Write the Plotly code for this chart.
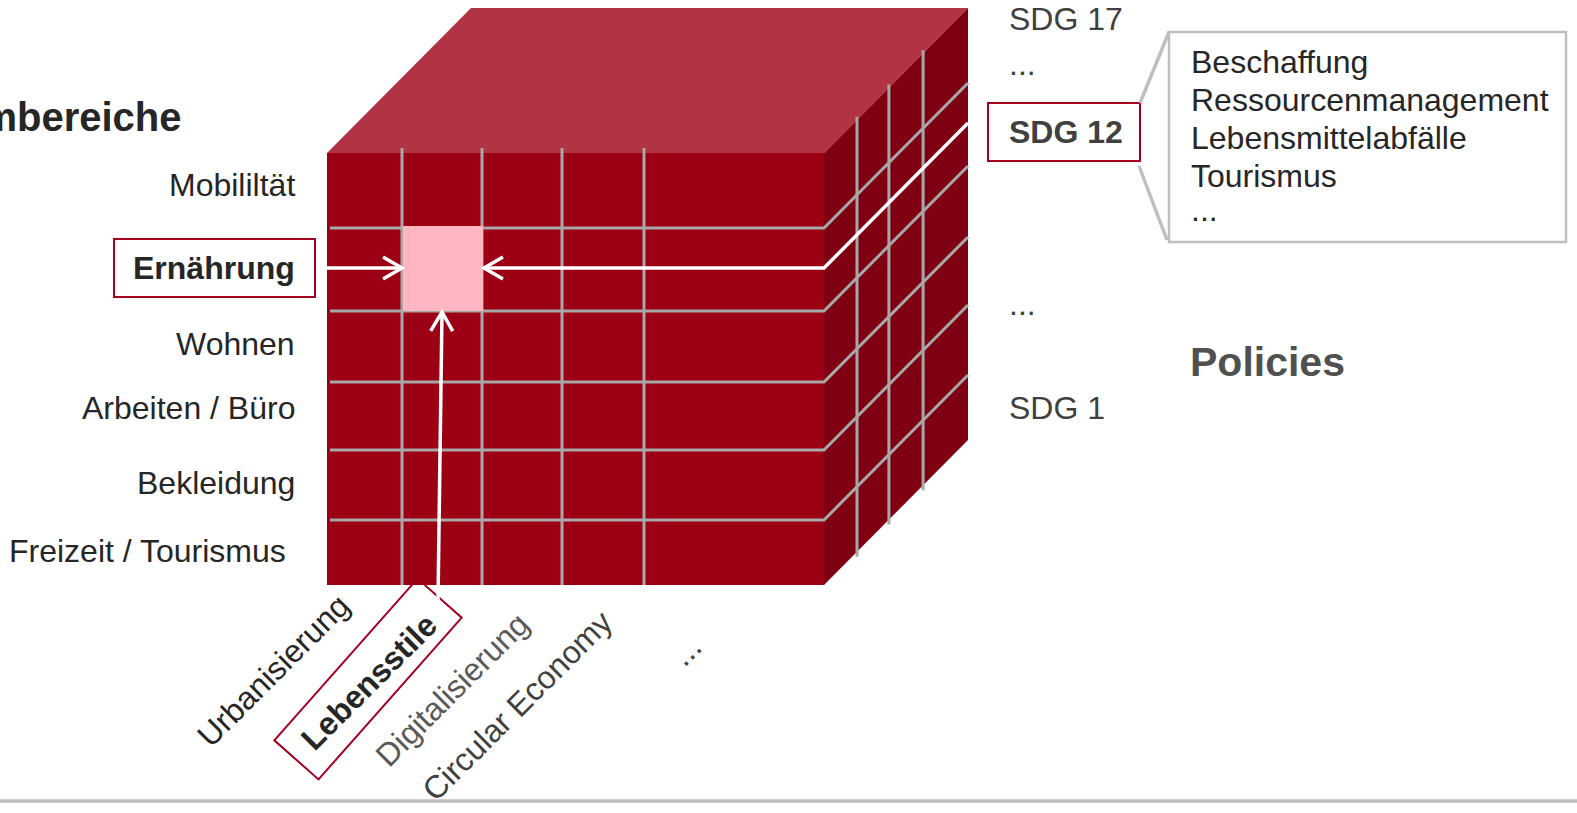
import math
import plotly.graph_objects as go

# ---------------- data ----------------
title_text = "Konsumbereiche"
areas = ["Mobililtät", "Ernährung", "Wohnen", "Arbeiten / Büro", "Bekleidung", "Freizeit / Tourismus"]
trends = ["Urbanisierung", "Lebensstile", "Digitalisierung", "Circular Economy", "..."]
sdgs = ["SDG 17", "...", "SDG 12", "...", "SDG 1"]
policy_items = ["Beschaffung", "Ressourcenmanagement", "Lebensmittelabfälle", "Tourismus", "..."]
policies_title = "Policies"
focus_area = "Ernährung"
focus_trend = "Lebensstile"
focus_sdg = "SDG 12"

# ---------------- layout geometry (pixels, y pointing down) ----------------
W, H = 1577, 813
FX0, FX1, FY0, FY1 = 327, 824, 153, 585          # front face
DX, DY = 144, -145                                # depth vector of the cube
row_edges = [228, 311, 382, 450, 520]
col_edges = [402, 482, 562, 644]
depth_fracs = [0.229, 0.451, 0.688]
area_y = [185, 268, 344, 408, 483, 551]
area_right = [297, 297, 297, 297, 297, 288]
trend_pos = [(273, 671), (369, 682), (452, 690), (517, 706), (686, 651)]
trend_colors = ["#262626", "#262626", "#595959", "#404040", "#404040"]
sdg_x = 1007
sdg_y = [19, 64, 132, 304, 408]
policy_x = 1189
policy_y = [62, 100, 138, 176, 210]

# ---------------- styles ----------------
FONT = "Liberation Sans, Arial, sans-serif"
C_FRONT = "#9C0015"
C_TOP = "#B23344"
C_SIDE = "#7F0012"
C_GRID = "#A8A8A8"
C_PINK = "#FFB6C1"
C_BOX = "#A50021"
C_LIGHT = "#BFBFBF"

shapes = []


def add_path(pts, color="rgba(0,0,0,0)", width=0, fill=None, close=False):
    d = "M " + " L ".join(f"{x:.1f},{y:.1f}" for x, y in pts) + (" Z" if close else "")
    shapes.append(dict(type="path", path=d, xref="x", yref="y",
                       line=dict(color=color, width=width),
                       fillcolor=fill if fill else "rgba(0,0,0,0)"))


def add_arrow_head(tip, direction, color="white", back=19, side=11, width=3.5):
    ux, uy = direction
    n = math.hypot(ux, uy)
    ux, uy = ux / n, uy / n
    px, py = -uy, ux
    bx, by = tip[0] - back * ux, tip[1] - back * uy
    add_path([(bx + side * px, by + side * py), tip, (bx - side * px, by - side * py)],
             color=color, width=width)


# Lebensstile label box (behind the cube)
ang = math.radians(48.5)
cx, cy = 368, 679
hl, hs = 108, 29.5
u = (math.cos(ang), -math.sin(ang))
v = (math.sin(ang), math.cos(ang))
box_pts = [(cx + sa * hl * u[0] + sb * hs * v[0], cy + sa * hl * u[1] + sb * hs * v[1])
           for sa, sb in [(-1, -1), (1, -1), (1, 1), (-1, 1)]]
add_path(box_pts, color=C_BOX, width=2, fill="white", close=True)

# cube faces
add_path([(FX0, FY0), (FX0 + DX, FY0 + DY), (FX1 + DX, FY0 + DY), (FX1, FY0)], fill=C_TOP, close=True)
add_path([(FX1, FY0), (FX1 + DX, FY0 + DY), (FX1 + DX, FY1 + DY), (FX1, FY1)], fill=C_SIDE, close=True)
add_path([(FX0, FY0), (FX1, FY0), (FX1, FY1), (FX0, FY1)], fill=C_FRONT, close=True)

# front vertical grid lines
for x in col_edges:
    add_path([(x, FY0 - 5), (x, FY1)], color=C_GRID, width=3)
# front horizontal lines continuing onto the side face
for y in row_edges:
    add_path([(FX0 + 3, y), (FX1, y), (FX1 + DX, y + DY)], color=C_GRID, width=3)
# side vertical lines
for f in depth_fracs:
    x = FX1 + f * DX
    add_path([(x, FY0 + f * DY - 3), (x, FY1 + f * DY + 5)], color=C_GRID, width=3)

# highlighted cell
ri = areas.index(focus_area)
ci = trends.index(focus_trend)
r_top, r_bot = row_edges[ri - 1], row_edges[ri]
c_l, c_r = col_edges[ci - 1], col_edges[ci]
shapes.append(dict(type="rect", xref="x", yref="y", x0=c_l + 1, x1=c_r + 1, y0=r_top - 2, y1=r_bot,
                   line=dict(width=0), fillcolor=C_PINK))

# white arrows
ya = area_y[ri]
add_path([(315, ya), (c_l, ya)], color="white", width=3.5)
add_arrow_head((c_l, ya), (1, 0))
add_path([(FX1 + DX, ya + DY), (FX1, ya), (c_r + 2, ya)], color="white", width=3.5)
add_arrow_head((c_r + 2, ya), (-1, 0))
xc = (c_l + c_r) / 2
add_path([(xc - 4, 600), (xc, r_bot + 1)], color="white", width=3.5)
add_arrow_head((xc, r_bot + 1), (4, -290))

# Ernährung label box
shapes.append(dict(type="rect", xref="x", yref="y", x0=114, x1=315, y0=239, y1=297,
                   line=dict(color=C_BOX, width=2), fillcolor="rgba(0,0,0,0)"))
# SDG 12 box
sx0, sx1, sy0, sy1 = 988, 1140, 103, 161
shapes.append(dict(type="rect", xref="x", yref="y", x0=sx0, x1=sx1, y0=sy0, y1=sy1,
                   line=dict(color=C_BOX, width=2), fillcolor="rgba(0,0,0,0)"))
# policy box and connectors
px0, px1, py0, py1 = 1169, 1566, 32, 242
shapes.append(dict(type="rect", xref="x", yref="y", x0=px0, x1=px1, y0=py0, y1=py1,
                   line=dict(color=C_LIGHT, width=2.5), fillcolor="rgba(0,0,0,0)"))
add_path([(sx1, sy0), (px0, py0)], color=C_LIGHT, width=3.5)
add_path([(sx1 - 1, sy1 + 5), (px0 - 2, py1 - 2)], color=C_LIGHT, width=3.5)
# bottom rule
add_path([(0, 801), (W, 801)], color=C_LIGHT, width=3.5)

# ---------------- annotations ----------------
ann = []


def text(x, y, s, size=32, color="#262626", bold=False, xanchor="left", angle=0):
    ann.append(dict(x=x, y=y, xref="x", yref="y", text=f"<b>{s}</b>" if bold else s,
                    showarrow=False, xanchor=xanchor, yanchor="middle", textangle=angle,
                    font=dict(family=FONT, size=size, color=color)))


text(184, 117, title_text, size=40, color="#262626", bold=True, xanchor="right")
for lab, y, xr in zip(areas, area_y, area_right):
    text(xr, y, lab, bold=(lab == focus_area), xanchor="right")
for lab, (x, y), col in zip(trends, trend_pos, trend_colors):
    text(x, y, lab, color=col, bold=(lab == focus_trend), xanchor="center", angle=-45)
for lab, y in zip(sdgs, sdg_y):
    text(sdg_x, y, lab, color="#404040", bold=(lab == focus_sdg))
for lab, y in zip(policy_items, policy_y):
    text(policy_x, y, lab, color="#262626")
text(1188, 362, policies_title, size=41, color="#505050", bold=True)

fig = go.Figure()
fig.add_trace(go.Scatter(x=[0, W], y=[0, H], mode="markers", marker=dict(opacity=0),
                         hoverinfo="skip", showlegend=False))
fig.update_layout(
    width=W, height=H, autosize=False,
    margin=dict(l=0, r=0, t=0, b=0),
    paper_bgcolor="white", plot_bgcolor="white",
    shapes=shapes, annotations=ann, showlegend=False,
    xaxis=dict(range=[0, W], visible=False, fixedrange=True),
    yaxis=dict(range=[H, 0], visible=False, fixedrange=True),
)
fig.write_html(
    "out.html",
    config={"displayModeBar": False},
    post_script="document.body.style.margin='0px';document.body.style.overflow='hidden';",
)
